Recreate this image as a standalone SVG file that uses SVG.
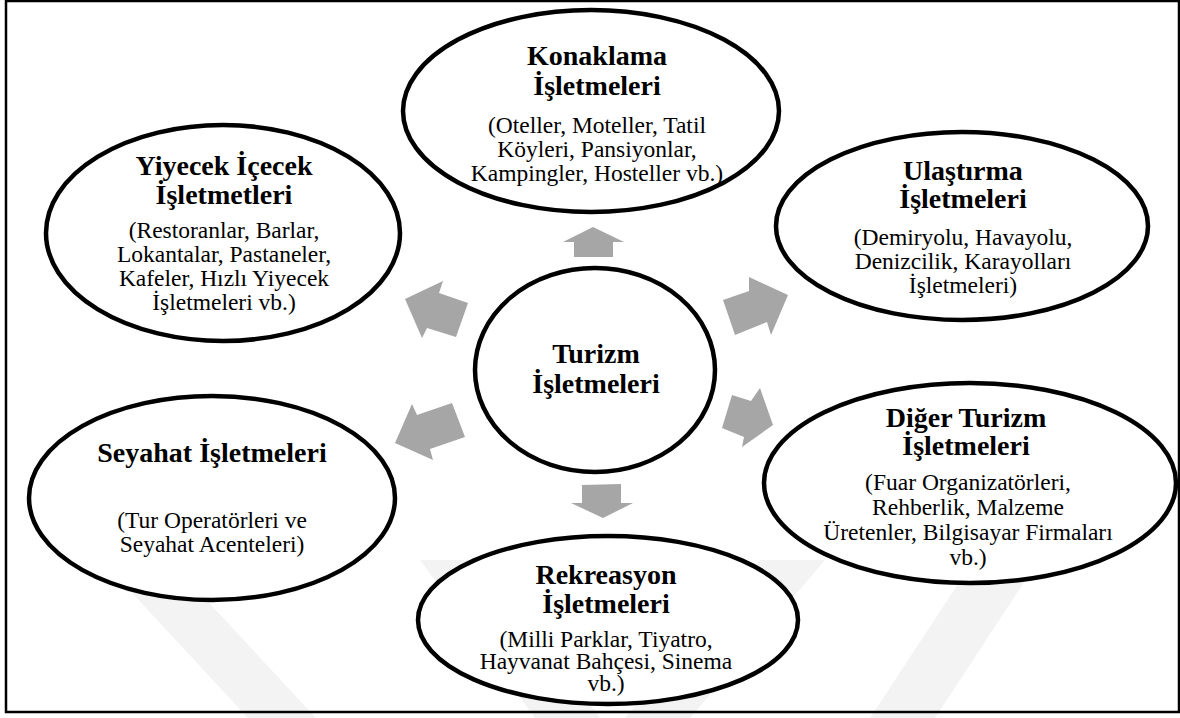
<svg xmlns="http://www.w3.org/2000/svg" width="1180" height="718" viewBox="0 0 1180 718">
<style>
.node ellipse{fill:#fff;stroke:#000;stroke-width:4.5}
.t{font-family:"Liberation Serif","Times New Roman",serif;font-weight:bold;font-size:28px;text-anchor:middle;fill:#000}
.s{font-family:"Liberation Serif","Times New Roman",serif;font-size:23.5px;text-anchor:middle;fill:#000}
.arr{fill:#a6a6a6}
.wm{fill:#f3f3f3}
</style>
<rect x="0" y="0" width="1180" height="718" fill="#fff"/>
<g id="watermark">
<polygon class="wm" points="120,580 188,580 316,718 248,718"/>
<polygon class="wm" points="420,560 485,560 600,718 535,718"/>
<polygon class="wm" points="760,560 825,560 690,718 625,718"/>
<polygon class="wm" points="1000,520 1065,520 935,718 870,718"/>
</g>
<rect x="6" y="1" width="1173" height="711" fill="none" stroke="#000" stroke-width="2.5"/>
<g id="connectors">
<polygon class="arr" points="593,227 624,242 613,242 613,257 574,257 574,242 563,242"/>
<polygon class="arr" points="788,295 771,335 767,322 735,335 723,300 749,291 749,277"/>
<polygon class="arr" points="773,425 742,447 744,437 722,428 732,395 751,401 760,388"/>
<polygon class="arr" points="603,518 633,503 621,503 621,484 582,485 582,503 571,503"/>
<polygon class="arr" points="405,299 443,281 439,293 468,303 456,337 427,328 422,338"/>
<polygon class="arr" points="395,443 412,404 417,415 452,403 465,437 430,449 433,460"/>
</g>
<g id="konaklama" class="node">
<ellipse cx="591" cy="111" rx="188" ry="101"/>
<text class="t" x="597" y="65">Konaklama</text>
<text class="t" x="597" y="95">İşletmeleri</text>
<text class="s" x="597" y="133">(Oteller, Moteller, Tatil</text>
<text class="s" x="597" y="157">Köyleri, Pansiyonlar,</text>
<text class="s" x="597" y="181">Kampingler, Hosteller vb.)</text>
</g>
<g id="yiyecek" class="node">
<ellipse cx="223" cy="233" rx="177" ry="108"/>
<text class="t" x="224" y="175">Yiyecek İçecek</text>
<text class="t" x="224" y="204">İşletmetleri</text>
<text class="s" x="224" y="238">(Restoranlar, Barlar,</text>
<text class="s" x="224" y="262">Lokantalar, Pastaneler,</text>
<text class="s" x="224" y="286">Kafeler, Hızlı Yiyecek</text>
<text class="s" x="224" y="310">İşletmeleri vb.)</text>
</g>
<g id="ulastirma" class="node">
<ellipse cx="962" cy="226" rx="186" ry="94"/>
<text class="t" x="963" y="180">Ulaştırma</text>
<text class="t" x="963" y="208">İşletmeleri</text>
<text class="s" x="963" y="245">(Demiryolu, Havayolu,</text>
<text class="s" x="963" y="269">Denizcilik, Karayolları</text>
<text class="s" x="963" y="293">İşletmeleri)</text>
</g>
<g id="turizm" class="node">
<ellipse cx="595" cy="370" rx="120" ry="102"/>
<text class="t" x="596" y="363">Turizm</text>
<text class="t" x="596" y="393">İşletmeleri</text>
</g>
<g id="diger" class="node">
<ellipse cx="970" cy="483" rx="206" ry="100"/>
<text class="t" x="966" y="427">Diğer Turizm</text>
<text class="t" x="966" y="455">İşletmeleri</text>
<text class="s" x="968" y="490">(Fuar Organizatörleri,</text>
<text class="s" x="968" y="515">Rehberlik, Malzeme</text>
<text class="s" x="968" y="540">Üretenler, Bilgisayar Firmaları</text>
<text class="s" x="968" y="565">vb.)</text>
</g>
<g id="seyahat" class="node">
<ellipse cx="212" cy="498" rx="183" ry="102"/>
<text class="t" x="212" y="462">Seyahat İşletmeleri</text>
<text class="s" x="212" y="528">(Tur Operatörleri ve</text>
<text class="s" x="212" y="552">Seyahat Acenteleri)</text>
</g>
<g id="rekreasyon" class="node">
<ellipse cx="608" cy="620" rx="190" ry="84"/>
<text class="t" x="606" y="584">Rekreasyon</text>
<text class="t" x="606" y="613">İşletmeleri</text>
<text class="s" x="606" y="647">(Milli Parklar, Tiyatro,</text>
<text class="s" x="606" y="669">Hayvanat Bahçesi, Sinema</text>
<text class="s" x="606" y="691">vb.)</text>
</g>
</svg>
